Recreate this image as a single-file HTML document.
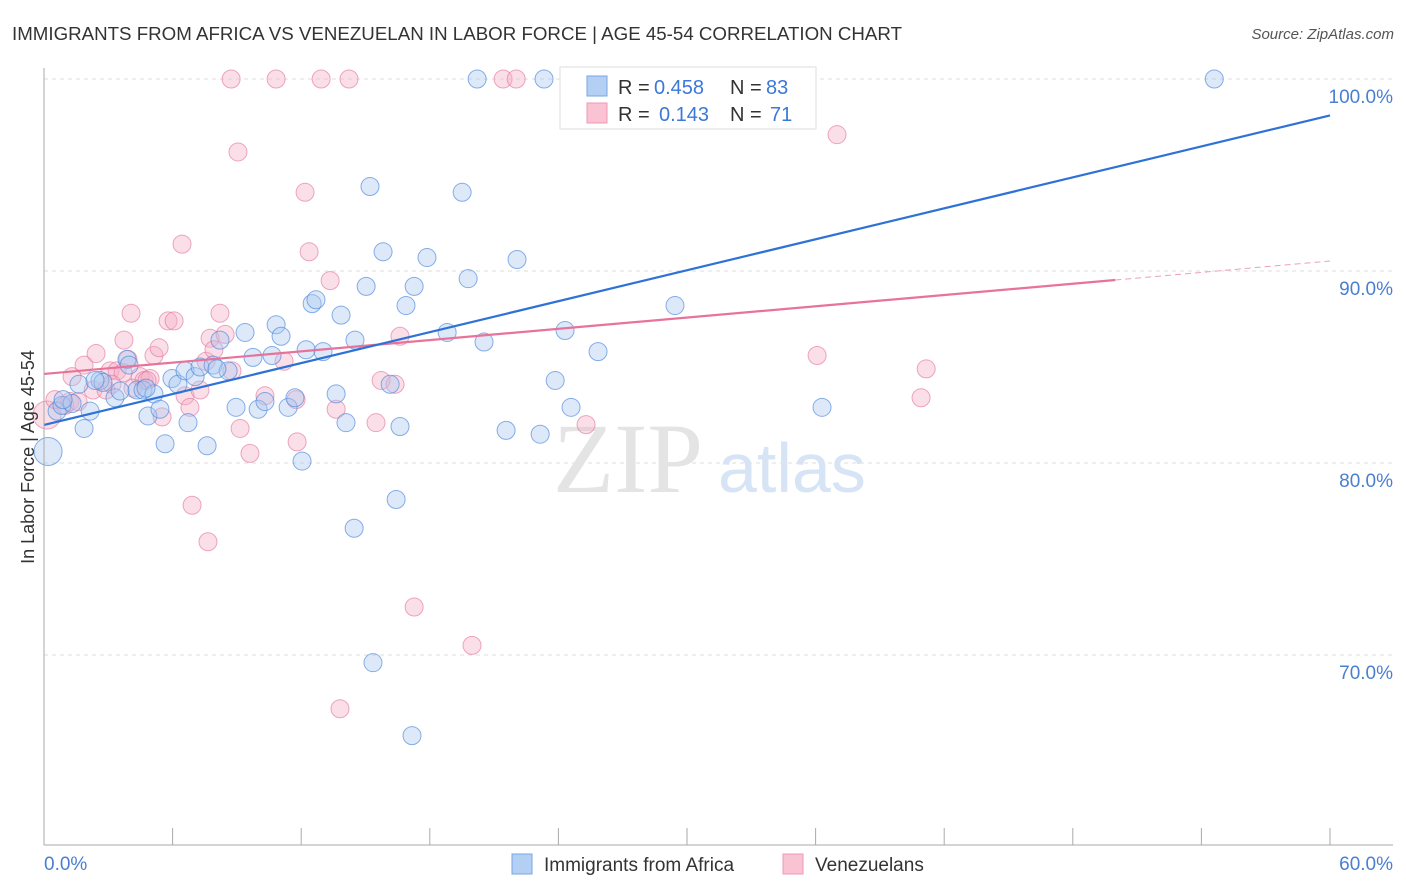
<!DOCTYPE html>
<html><head><meta charset="utf-8"><style>
body{margin:0;background:#fff;font-family:"Liberation Sans",sans-serif}
</style></head><body>
<svg width="1406" height="892" viewBox="0 0 1406 892" style="display:block">
<text x="12" y="40" font-size="18" fill="#333" textLength="890" lengthAdjust="spacingAndGlyphs">IMMIGRANTS FROM AFRICA VS VENEZUELAN IN LABOR FORCE | AGE 45-54 CORRELATION CHART</text>
<text x="1394" y="39" font-size="15" fill="#555" text-anchor="end" font-style="italic">Source: ZipAtlas.com</text>
<g id="grid"></g>
<text x="553" y="492" font-size="100" fill="#e4e4e4" font-family="Liberation Serif">ZIP</text>
<text x="718" y="492" font-size="70" fill="#d6e4f5">atlas</text>
<g id="pts"></g>
<g id="trend"></g>
<line x1="44" y1="68" x2="44" y2="845" stroke="#aaa"/>
<line x1="44" y1="845" x2="1393" y2="845" stroke="#aaa"/>
<g id="axes"></g>
<text x="34" y="457" font-size="18" fill="#333" text-anchor="middle" transform="rotate(-90 34 457)">In Labor Force | Age 45-54</text>
<g>
<rect x="560" y="67" width="256" height="62" fill="#fff" stroke="#ddd"/>
<rect x="587" y="76" width="20" height="20" fill="#b3cff3" stroke="#7aa6e3"/>
<rect x="587" y="103" width="20" height="20" fill="#f9c3d3" stroke="#ee9ab5"/>
<text y="94" font-size="20"><tspan x="618" fill="#333">R = </tspan><tspan x="654" fill="#3b78d8">0.458</tspan><tspan x="730" fill="#333">N = </tspan><tspan x="766" fill="#3b78d8">83</tspan></text>
<text y="121" font-size="20"><tspan x="618" fill="#333">R = </tspan><tspan x="659" fill="#3b78d8">0.143</tspan><tspan x="730" fill="#333">N = </tspan><tspan x="770" fill="#3b78d8">71</tspan></text>
</g>
<g>
<rect x="512" y="854" width="20" height="20" fill="#b3cff3" stroke="#7aa6e3"/>
<text x="544" y="871" font-size="19" fill="#333">Immigrants from Africa</text>
<rect x="783" y="854" width="20" height="20" fill="#f9c3d3" stroke="#ee9ab5"/>
<text x="815" y="871" font-size="19" fill="#333">Venezuelans</text>
</g>
</svg>
<script>
const yTicks=[100,90,80,70];
const yTickLabels=["100.0%","90.0%","80.0%","70.0%"];
const xTicks=[0,6,12,18,24,30,36,42,48,54,60];
const blueX=[0.19,0.61,0.84,1.31,1.87,2.15,1.63,2.61,2.75,3.31,3.55,3.87,4.34,4.62,4.85,5.13,5.41,5.65,5.97,6.25,6.58,6.72,7.05,7.28,7.61,7.89,8.21,8.59,8.96,9.38,9.75,9.99,10.31,10.64,10.83,11.06,11.39,11.71,12.04,12.23,12.51,12.69,13.02,13.86,14.09,14.47,14.51,13.63,15.03,15.21,15.35,15.82,16.15,16.43,16.61,16.89,17.17,17.27,17.87,18.81,19.51,19.79,20.21,20.53,21.56,22.07,23.15,23.33,23.85,24.59,24.31,25.85,29.44,33.04,36.30,54.60,0.89,2.38,3.97,4.76,8.07];
const blueY=[80.6,82.7,83.0,83.1,81.8,82.7,84.1,84.3,84.2,83.4,83.75,85.4,83.8,83.8,82.45,83.6,82.8,81.0,84.4,84.1,84.8,82.1,84.5,85.0,80.9,85.1,86.4,84.8,82.9,86.8,85.5,82.8,83.2,85.6,87.2,86.6,82.9,83.4,80.1,85.9,88.3,88.5,85.8,87.7,82.1,76.6,86.4,83.6,89.2,94.4,69.6,91.0,84.1,78.1,81.9,88.2,65.8,89.2,90.7,86.8,94.1,89.6,100,86.3,81.7,90.6,81.5,100,84.3,82.9,86.9,85.8,88.2,100,82.9,100,83.3,84.3,85.1,83.9,84.9];
const pinkX=[0.14,0.51,0.98,1.21,1.59,1.31,1.87,2.29,2.43,2.89,3.08,3.41,3.73,3.92,4.06,4.48,4.67,4.95,5.13,5.37,5.51,5.79,6.07,6.44,6.58,6.81,6.91,7.28,7.56,7.65,7.75,7.93,8.21,8.45,8.77,9.05,9.15,9.61,8.73,10.83,10.31,11.20,11.81,12.18,12.37,12.93,13.35,13.63,13.81,14.23,15.73,15.49,16.38,16.61,17.27,19.97,21.42,22.03,25.29,36.07,37.00,40.92,41.16,11.76,3.69,4.15,3.17,4.81];
const pinkY=[82.5,83.3,83.0,83.2,83.2,84.5,85.1,83.8,85.7,83.8,84.8,84.8,86.4,85.4,87.8,84.5,84.3,84.4,85.6,86.0,82.4,87.4,87.4,91.4,83.5,82.9,77.8,83.8,85.3,75.9,86.5,85.9,87.8,86.7,84.8,96.2,81.8,80.5,100,100,83.5,85.3,81.1,94.1,91.0,100,89.5,82.8,67.2,100,84.3,82.1,84.1,86.6,72.5,70.5,100,100,82.0,85.6,97.1,83.4,84.9,83.3,84.7,83.9,84.1,84.3];
const blueTrend=[[0,81.98],[60,98.1]];
const pinkTrend=[[0,84.64],[49.98,89.53]];
const pinkTrendDash=[[49.98,89.53],[60,90.52]];
const NS="http://www.w3.org/2000/svg";
const X=v=>44+v/60*1286;
const Y=v=>79+(100-v)*19.2;
function mk(t,a,p){const e=document.createElementNS(NS,t);for(const k in a)e.setAttribute(k,a[k]);p.appendChild(e);return e;}
const grid=document.getElementById('grid'),axes=document.getElementById('axes'),pts=document.getElementById('pts'),tr=document.getElementById('trend');
yTicks.forEach((t,i)=>{
 const l=mk('line',{x1:44,x2:1393,y1:Y(t),y2:Y(t),stroke:'#ddd','stroke-dasharray':'4,4'},grid);
 
 
 const tx=mk('text',{x:1393,y:Y(t)+24,'font-size':19,fill:'#4a7fd0','text-anchor':'end'},axes);
 tx.textContent=yTickLabels[i];
 
 
});
xTicks.forEach(t=>{
 const l=mk('line',{x1:X(t),x2:X(t),y1:828,y2:845,stroke:'#aaa'},axes);
 
 
});
const x0=mk('text',{x:44,y:870,'font-size':19,fill:'#4a7fd0'},axes);x0.textContent='0.0%';


const x1=mk('text',{x:1393,y:870,'font-size':19,fill:'#4a7fd0','text-anchor':'end'},axes);x1.textContent='60.0%';


function dots(xs,ys,fill,stroke,name){xs.forEach((x,i)=>{
 const r=i===0?14:9;
 const c=mk('circle',{cx:X(x),cy:Y(ys[i]),r:r,fill:fill,'fill-opacity':0.4,stroke:stroke,'stroke-opacity':0.65,'stroke-width':1},pts);
 
 
});}
dots(pinkX,pinkY,'#f5b0c5','#e57aa0','venezuelan-point');
dots(blueX,blueY,'#a9c8f0','#4a86dc','africa-point');
function ln(p,col,dash,name){const l=mk('line',{x1:X(p[0][0]),y1:Y(p[0][1]),x2:X(p[1][0]),y2:Y(p[1][1]),stroke:col,'stroke-width':dash?1:2.2},tr);
 if(dash)l.setAttribute('stroke-dasharray','6,4');
 
 }
ln(pinkTrend,'#e8739a',false,'venezuelan-trend-line');
ln(pinkTrendDash,'#eea0b8',true,'venezuelan-trend-extension');
ln(blueTrend,'#2f72d6',false,'africa-trend-line');
</script>
</body></html>
